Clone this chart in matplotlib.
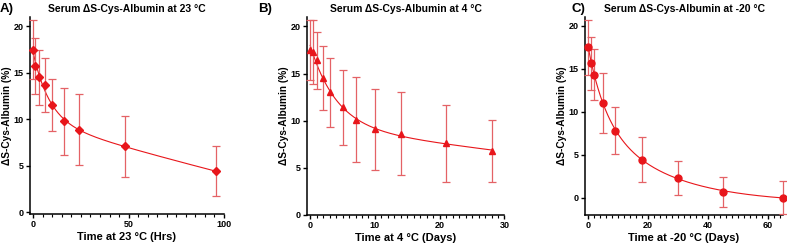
import numpy as np
import matplotlib.pyplot as plt
from matplotlib.ticker import MultipleLocator

plt.rcParams['font.family'] = ['Liberation Sans', 'DejaVu Sans']
plt.rcParams['font.weight'] = 'bold'

# Panel A: 23 C, hours
t_a = [0, 1, 3, 6, 10, 16, 24, 48, 96]
mean_a = [17.5, 15.7, 14.5, 13.7, 11.5, 9.8, 8.9, 7.1, 4.4]
sd_a = [3.2, 3.0, 3.0, 2.9, 2.8, 3.6, 3.8, 3.3, 2.7]

# Panel B: 4 C, days
t_b = [0, 0.5, 1, 2, 3, 5, 7, 10, 14, 21, 28]
mean_b = [17.5, 17.3, 16.4, 14.5, 13.0, 11.4, 10.1, 9.1, 8.6, 7.6, 6.8]
sd_b = [3.2, 3.4, 3.0, 3.4, 3.7, 4.0, 4.5, 4.3, 4.4, 4.1, 3.3]

# Panel C: -20 C, days
t_c = [0, 1, 2, 5, 9, 18, 30, 45, 65]
mean_c = [17.5, 15.6, 14.3, 11.0, 7.8, 4.4, 2.3, 0.7, 0.0]
sd_c = [3.2, 3.1, 3.0, 3.5, 2.7, 2.6, 2.0, 1.75, 1.95]

RED = '#e8161b'
ERR = '#e46266'


def fit_decay(x, y, n_phase):
    # least squares exponential decay fit, grid over rate constants
    x = np.asarray(x, float)
    y = np.asarray(y, float)
    ks = np.logspace(-3, 1, 160)
    best = None
    if n_phase == 1:
        combos = [(k,) for k in ks]
    else:
        combos = [(k1, k2) for i, k1 in enumerate(ks) for k2 in ks[i + 1:]]
    for kk in combos:
        A = np.column_stack([np.ones_like(x)] + [np.exp(-k * x) for k in kk])
        coef, res, _, _ = np.linalg.lstsq(A, y, rcond=None)
        err = np.sum((A @ coef - y) ** 2)
        if best is None or err < best[0]:
            best = (err, kk, coef)
    _, kk, coef = best

    def f(xx):
        out = coef[0] * np.ones_like(xx)
        for c, k in zip(coef[1:], kk):
            out = out + c * np.exp(-k * xx)
        return out
    return f


panels = [
    dict(t=t_a, m=mean_a, s=sd_a, phases=2, marker='D', ms=4.0,
         title='Serum ΔS-Cys-Albumin at 23 °C', xlabel='Time at 23 °C (Hrs)',
         tag='A)', tagx=0.0, xlim=(-2, 100), ylim=(-0.2, 21), xmaj=50, xmin=5,
         pos=[0.0375, 0.133, 0.247, 0.798]),
    dict(t=t_b, m=mean_b, s=sd_b, phases=2, marker='^', ms=5,
         title='Serum ΔS-Cys-Albumin at 4 °C', xlabel='Time at 4 °C (Days)',
         tag='B)', tagx=258 / 787, xlim=(-0.5, 30), ylim=(0, 21), xmaj=10, xmin=1,
         pos=[0.390, 0.130, 0.251, 0.801]),
    dict(t=t_c, m=mean_c, s=sd_c, phases=2, marker='o', ms=5,
         title='Serum ΔS-Cys-Albumin at -20 °C', xlabel='Time at -20 °C (Days)',
         tag='C)', tagx=571 / 787, xlim=(-1.1, 65), ylim=(-2, 21), xmaj=20, xmin=2,
         pos=[0.7433, 0.130, 0.2517, 0.801]),
]

fig = plt.figure(figsize=(7.87, 2.47), dpi=100)

for p in panels:
    ax = fig.add_axes(p['pos'])
    f = fit_decay(p['t'], p['m'], p['phases'])
    xx = np.linspace(0, max(p['t']), 400)
    ax.plot(xx, f(xx), color=RED, lw=0.8, zorder=2)
    ax.errorbar(p['t'], p['m'], yerr=p['s'], fmt='none', ecolor=ERR,
                elinewidth=0.9, capsize=3, capthick=0.9, zorder=3, clip_on=False)
    ax.plot(p['t'], p['m'], linestyle='none', marker=p['marker'], ms=p['ms'],
            color=RED, zorder=4, clip_on=False)

    ax.set_xlim(*p['xlim'])
    ax.set_ylim(*p['ylim'])
    ax.xaxis.set_major_locator(MultipleLocator(p['xmaj']))
    ax.xaxis.set_minor_locator(MultipleLocator(p['xmin']))
    ax.set_yticks([0, 5, 10, 15, 20])
    for s in ['top', 'right']:
        ax.spines[s].set_visible(False)
    for s in ['left', 'bottom']:
        ax.spines[s].set_linewidth(1.1)
    ax.tick_params(which='major', length=3.0, width=1.0, labelsize=6.5, pad=1.5)
    ax.tick_params(which='minor', length=2, width=0.8)
    for lbl in ax.get_xticklabels() + ax.get_yticklabels():
        lbl.set_fontweight('bold')

    pos = p['pos']
    fig.text(pos[0] + pos[2] / 2, 0.965, p['title'], fontsize=7.5,
             fontweight='bold', ha='center', va='center')
    fig.text(p['tagx'], 0.965, p['tag'], fontsize=9.5, fontweight='bold',
             ha='left', va='center')
    ax.set_xlabel(p['xlabel'], fontsize=8, fontweight='bold', labelpad=2)
    ax.set_ylabel('ΔS-Cys-Albumin (%)', fontsize=7.3, fontweight='bold', labelpad=1)

fig.savefig('out.png', dpi=100)
